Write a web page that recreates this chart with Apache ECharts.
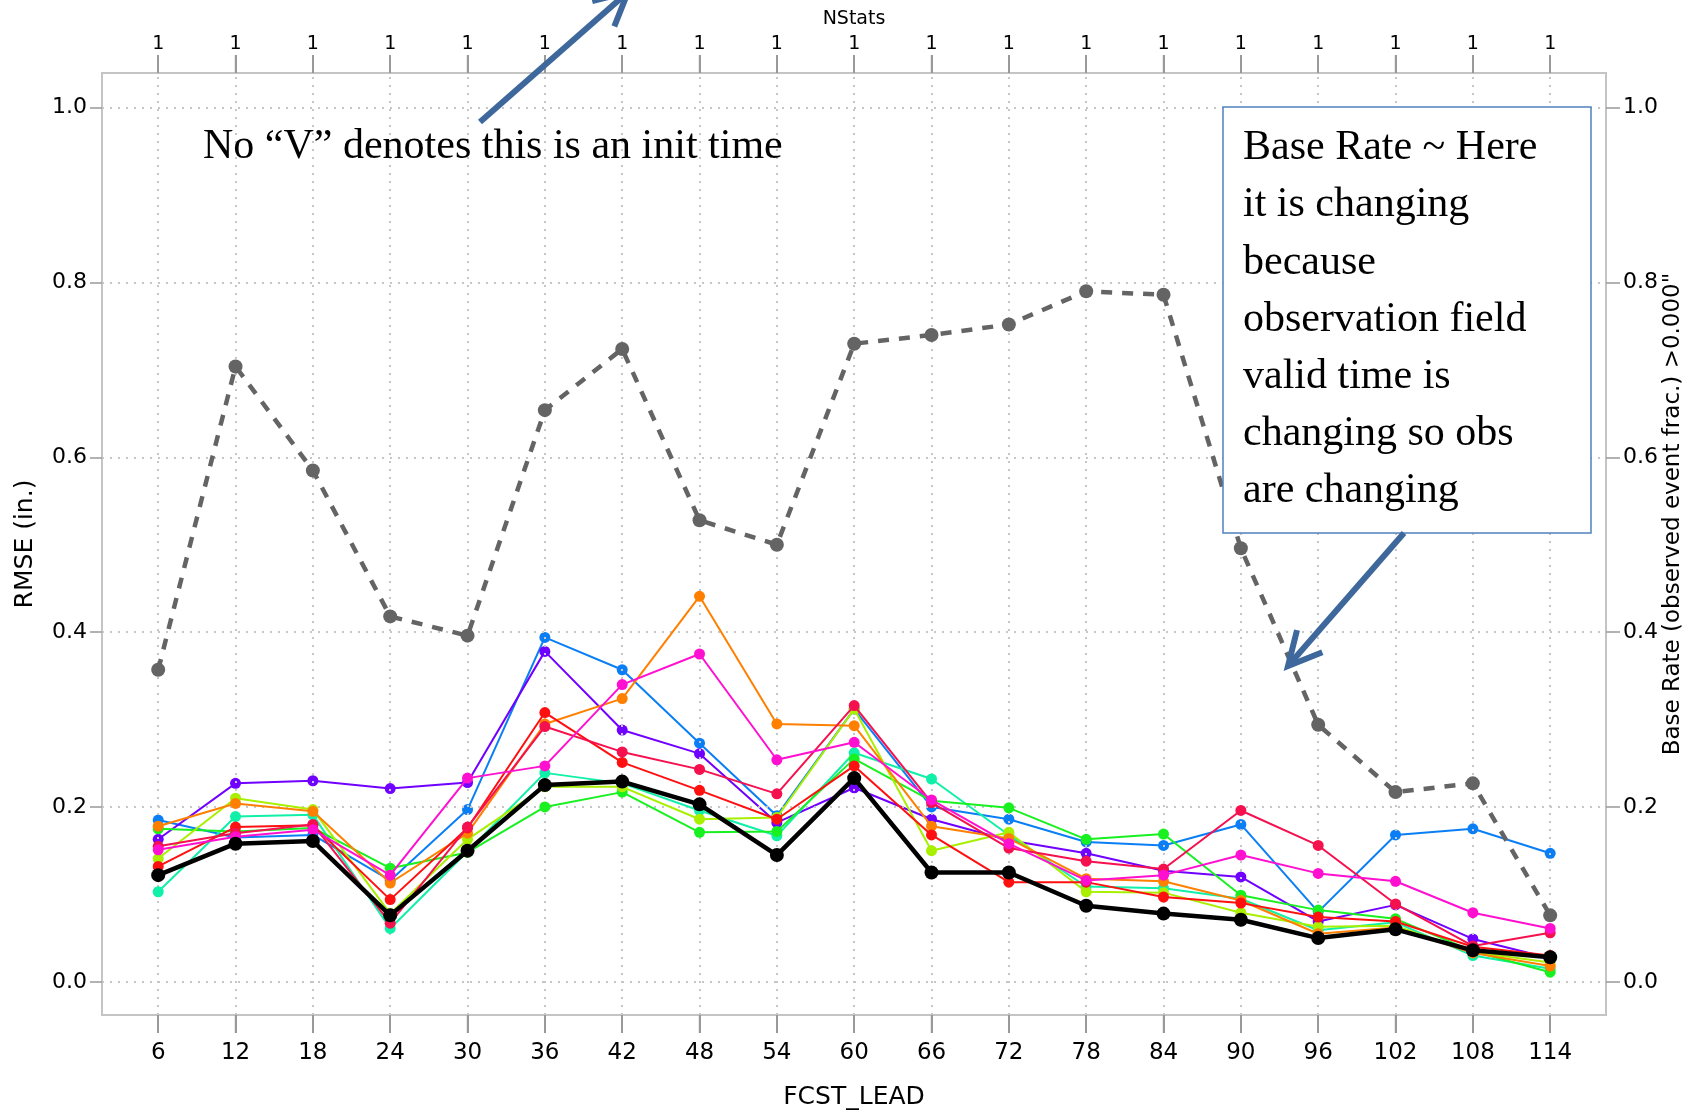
<!DOCTYPE html>
<html><head><meta charset="utf-8">
<script src="https://cdn.jsdelivr.net/npm/echarts@6/dist/echarts.min.js"></script>
<style>html,body{margin:0;padding:0;background:#fff}#c{width:1688px;height:1112px}</style>
</head><body><div id="c"></div>
<script>
// ---- data ----
const fcstLead = [6,12,18,24,30,36,42,48,54,60,66,72,78,84,90,96,102,108,114];
const nStats   = [1,1,1,1,1,1,1,1,1,1,1,1,1,1,1,1,1,1,1];
const yTicks   = [0.0,0.2,0.4,0.6,0.8,1.0];

const baseRate = [0.357,0.704,0.585,0.418,0.396,0.654,0.724,0.528,0.500,0.730,0.740,0.752,0.790,0.786,0.496,0.294,0.217,0.227,0.076];

const rmseBlack   = [0.122,0.158,0.161,0.076,0.150,0.225,0.229,0.203,0.145,0.233,0.125,0.125,0.087,0.078,0.071,0.050,0.060,0.036,0.028];
const rmseBlue    = [0.185,0.165,0.168,0.116,0.197,0.394,0.357,0.273,0.190,0.312,0.200,0.186,0.160,0.156,0.180,0.080,0.168,0.175,0.147];
const rmsePurple  = [0.163,0.227,0.230,0.221,0.228,0.378,0.288,0.261,0.182,0.222,0.186,0.162,0.147,0.127,0.120,0.069,0.088,0.049,0.027];
const rmseTeal    = [0.103,0.189,0.191,0.061,0.149,0.239,0.227,0.196,0.167,0.262,0.232,0.168,0.109,0.107,0.095,0.059,0.068,0.030,0.015];
const rmseGreen   = [0.175,0.172,0.176,0.130,0.148,0.200,0.217,0.171,0.172,0.255,0.207,0.199,0.163,0.169,0.099,0.082,0.072,0.035,0.011];
const rmseYellow  = [0.141,0.210,0.197,0.078,0.163,0.223,0.223,0.186,0.188,0.312,0.150,0.171,0.103,0.102,0.079,0.063,0.064,0.034,0.022];
const rmseOrange  = [0.178,0.204,0.195,0.113,0.170,0.295,0.324,0.441,0.295,0.293,0.178,0.164,0.118,0.115,0.093,0.055,0.062,0.033,0.018];
const rmseRed     = [0.132,0.177,0.179,0.094,0.176,0.308,0.251,0.219,0.186,0.247,0.168,0.114,0.114,0.097,0.090,0.074,0.069,0.040,0.030];
const rmseCrimson = [0.155,0.170,0.180,0.067,0.177,0.292,0.263,0.243,0.215,0.316,0.205,0.153,0.138,0.129,0.196,0.156,0.089,0.041,0.056];
const rmseMagenta = [0.151,0.166,0.174,0.122,0.233,0.247,0.340,0.375,0.254,0.274,0.208,0.158,0.116,0.122,0.145,0.124,0.115,0.079,0.061];

const colored = [
  {name:'blue',    color:'#0a7ff5', vals:rmseBlue},
  {name:'purple',  color:'#7000ff', vals:rmsePurple},
  {name:'teal',    color:'#10f0a8', vals:rmseTeal},
  {name:'green',   color:'#18f020', vals:rmseGreen},
  {name:'yellow',  color:'#a8f000', vals:rmseYellow},
  {name:'orange',  color:'#ff8000', vals:rmseOrange},
  {name:'red',     color:'#ff1010', vals:rmseRed},
  {name:'crimson', color:'#f5104e', vals:rmseCrimson},
  {name:'magenta', color:'#ff10d0', vals:rmseMagenta}
];

const pair = arr => fcstLead.map((x,i)=>[x,arr[i]]);
const FONT = 'DejaVu Sans';
const X_MIN = 1.64, X_MAX = 118.33, Y_MIN = -0.038, Y_MAX = 1.0397;

const series = [];
// gridlines (dotted) via markLine
series.push({
  type:'line', data:[], silent:true, z:1, showSymbol:false,
  markLine:{
    silent:true, symbol:['none','none'], label:{show:false},
    lineStyle:{color:'#c6c6c6', width:2, type:[2,6]},
    emphasis:{disabled:true},
    data: fcstLead.map(x=>({xAxis:x})).concat(yTicks.map(y=>({yAxis:y})))
  }
});
colored.forEach((s,k)=>{
  series.push({
    name:s.name, type:'line', data:pair(s.vals), z:3+k,
    symbol:'circle', symbolSize:11,
    lineStyle:{color:s.color, width:2},
    itemStyle:{color:s.color},
    animation:false
  });
});
series.push({
  name:'black', type:'line', data:pair(rmseBlack), z:20,
  symbol:'circle', symbolSize:14,
  lineStyle:{color:'#000', width:4.5},
  itemStyle:{color:'#000'}, animation:false
});
series.push({
  name:'Base Rate', type:'line', yAxisIndex:1, data:pair(baseRate), z:21,
  symbol:'circle', symbolSize:14,
  lineStyle:{color:'#646464', width:4.5, type:[11,10]},
  itemStyle:{color:'#646464'}, animation:false
});

// annotation arrows helper
function arrow(x0,y0,x1,y1,len,ang){
  const dx=x0-x1, dy=y0-y1, L=Math.hypot(dx,dy), ux=dx/L, uy=dy/L;
  const c=Math.cos(ang), s=Math.sin(ang);
  const b1=[x1+len*(ux*c-uy*s), y1+len*(ux*s+uy*c)];
  const b2=[x1+len*(ux*c+uy*s), y1+len*(-ux*s+uy*c)];
  const st={stroke:'#3e689c', lineWidth:6, lineCap:'butt', lineJoin:'miter', fill:null};
  return [
    {type:'line', shape:{x1:x0,y1:y0,x2:x1,y2:y1}, style:st, z:100},
    {type:'polyline', shape:{points:[b1,[x1,y1],b2]}, style:st, z:100}
  ];
}

const tickStyle = {color:'#999', width:1.5};
const lineStyle = {color:'#c4c4c4', width:2};
const GRID = {left:102, top:73, width:1504, height:942};
// helper axes that draw the outward x ticks as "|" glyph labels
const tickAxis = pos => ({
  type:'value', position:pos, offset:0, min:X_MIN, max:X_MAX,
  axisLine:{show:false}, axisTick:{show:false}, splitLine:{show:false},
  axisLabel:{customValues:fcstLead, margin:0, fontFamily:FONT, fontSize:18, color:'#9a9a9a',
    formatter:()=>'|'}
});
const option = {
  backgroundColor:'#fff',
  animation:false,
  grid:Object.assign({show:true, borderColor:'#c4c4c4', borderWidth:2,
        backgroundColor:'transparent', containLabel:false, outerBoundsMode:'none'}, GRID),
  xAxis:[
    {type:'value', position:'bottom', min:X_MIN, max:X_MAX,
     name:'FCST_LEAD', nameLocation:'middle', nameGap:70, nameMoveOverlap:false,
     nameTextStyle:{fontFamily:FONT, fontSize:25, color:'#000'},
     axisLine:{show:true, onZero:false, lineStyle:lineStyle}, splitLine:{show:false},
     axisTick:{show:true, inside:false, customValues:fcstLead, length:18, lineStyle:{color:'#999', width:2}},
     axisLabel:{customValues:fcstLead, margin:27, fontFamily:FONT, fontSize:23, color:'#000'}},
    {type:'value', position:'top', min:X_MIN, max:X_MAX,
     name:'NStats', nameLocation:'middle', nameGap:44, nameMoveOverlap:false,
     nameTextStyle:{fontFamily:FONT, fontSize:19, color:'#000'},
     axisLine:{show:true, onZero:false, lineStyle:lineStyle}, splitLine:{show:false},
     axisTick:{show:true, inside:false, customValues:fcstLead, length:18, lineStyle:{color:'#999', width:2}},
     axisLabel:{customValues:fcstLead, margin:19, fontFamily:FONT, fontSize:19, color:'#000',
       formatter:v=>String(nStats[fcstLead.indexOf(v)])}},
    tickAxis('bottom'),
    tickAxis('top')
  ],
  yAxis:[
    {type:'value', position:'left', min:Y_MIN, max:Y_MAX,
     name:'RMSE (in.)', nameLocation:'middle', nameGap:64, nameMoveOverlap:false,
     nameTextStyle:{fontFamily:FONT, fontSize:25, color:'#000'},
     axisLine:{show:true, onZero:false, lineStyle:lineStyle}, splitLine:{show:false},
     axisTick:{show:true, inside:false, customValues:yTicks, length:12, lineStyle:tickStyle},
     axisLabel:{customValues:yTicks, margin:15, fontFamily:FONT, fontSize:22, color:'#000', formatter:v=>v.toFixed(1)}},
    {type:'value', position:'right', min:Y_MIN, max:Y_MAX,
     name:'Base Rate (observed event frac.) >0.000"', nameLocation:'middle', nameGap:56, nameMoveOverlap:false,
     nameTextStyle:{fontFamily:FONT, fontSize:23, color:'#000', padding:[0,0,0,60]},
     axisLine:{show:true, onZero:false, lineStyle:lineStyle}, splitLine:{show:false},
     axisTick:{show:true, inside:false, customValues:yTicks, length:14, lineStyle:tickStyle},
     axisLabel:{customValues:yTicks, margin:17, fontFamily:FONT, fontSize:22, color:'#000', formatter:v=>v.toFixed(1)}}
  ],
  series:series
};

const annotations = [
    {type:'text', z:100, style:{x:203, y:146.5, text:'No \u201cV\u201d denotes this is an init time',
      font:'42px "Liberation Serif"', fill:'#000', verticalAlign:'middle', align:'left'}},
    {type:'rect', z:99, shape:{x:1223, y:107, width:368, height:426},
      style:{fill:'#fff', stroke:'#4f81bd', lineWidth:1.5}},
    {type:'text', z:100, style:{x:1243, y:119.5,
      text:'Base Rate ~ Here\nit is changing\nbecause\nobservation field\nvalid time is\nchanging so obs\nare changing',
      font:'42px "Liberation Serif"', lineHeight:57.2, fill:'#000', verticalAlign:'top', align:'left'}}
  ].concat(arrow(480,122,628,-8,37,27*Math.PI/180))
   .concat(arrow(1404,533,1288,666,37,27*Math.PI/180));

const chart = echarts.init(document.getElementById('c'), null, {renderer:'canvas'});
chart.setOption(option);
chart.setOption({graphic: annotations});
</script>
</body></html>
